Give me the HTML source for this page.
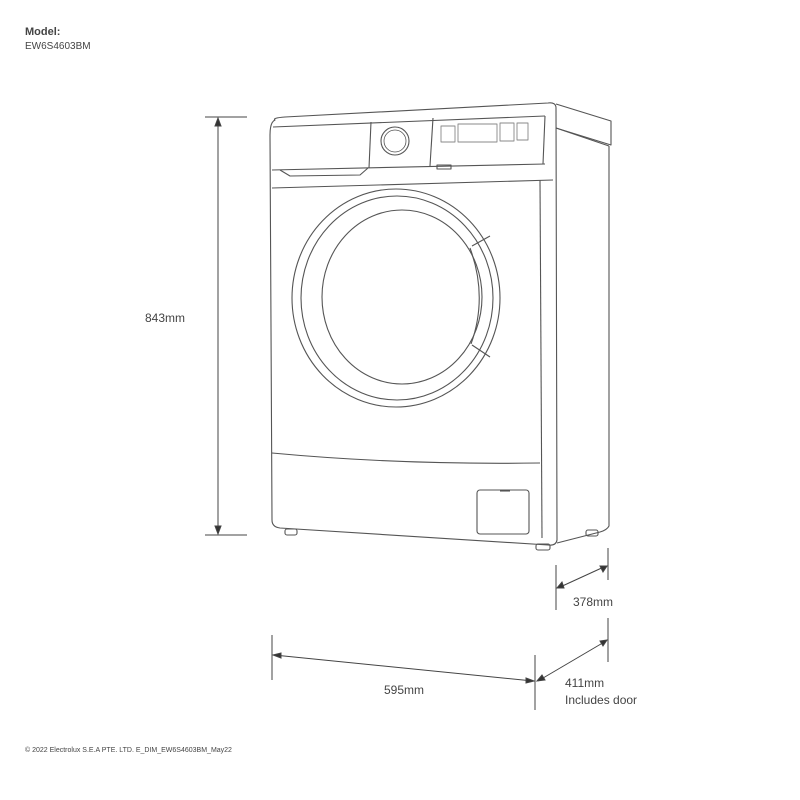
<!DOCTYPE html>
<html><head><meta charset="utf-8"><style>
html,body{margin:0;padding:0;background:#fff;width:800px;height:800px;overflow:hidden}
svg{display:block}
text{font-family:"Liberation Sans",sans-serif;fill:#444}
</style></head><body>
<svg width="800" height="800" viewBox="0 0 800 800" xmlns="http://www.w3.org/2000/svg">
<text x="25" y="35" font-size="11" font-weight="bold" fill="#333">Model:</text>
<text x="25" y="49" font-size="10" fill="#555">EW6S4603BM</text>

<g fill="none" stroke="#555" stroke-width="1.1" stroke-linejoin="round">
<!-- front face -->
<path d="M275,120 Q272,118 285,117 L548,103 Q556,102 556,108 L557,540 Q556,546 548,545 L280,528 Q272,527 272,520 L270,135 Q270,122 275,120 Z"/>
<!-- side -->
<path d="M556,104 L611,121 L611,145 L556,128"/>
<path d="M556,128 L609,146"/>
<path d="M609,146 L609,526 Q607,530 600,532 L557,543"/>
<line x1="540" y1="180" x2="542" y2="538"/>
<!-- control panel -->
<path d="M273,127 L545,116"/>
<path d="M272,170 L545,164"/>
<path d="M371,122 L369,168"/>
<path d="M433,118 L430,166"/>
<path d="M545,116 L543,164"/>
<circle cx="395" cy="141" r="14"/>
<circle cx="395" cy="141" r="11" stroke-width="0.8"/>
<g stroke="#888" stroke-width="0.9">
<rect x="441" y="126" width="14" height="16"/>
<rect x="458" y="124" width="39" height="18"/>
<rect x="500" y="123" width="14" height="18"/>
<rect x="517" y="123" width="11" height="17"/>
</g>
<path d="M280,170 L290,176 L360,175 L368,168"/>
<rect x="437" y="165" width="14" height="4"/>
<path d="M272,188 L553,180"/>
<!-- door -->
<ellipse cx="396" cy="298" rx="104" ry="109"/>
<ellipse cx="397" cy="298" rx="96" ry="102"/>
<ellipse cx="402" cy="297" rx="80" ry="87"/>
<path d="M472,246 L490,236"/>
<path d="M472,345 L490,357"/>
<path d="M470,248 Q488,297 471,344"/>
<!-- lower panel -->
<path d="M272,453 Q400,465 540,463"/>
<rect x="477" y="490" width="52" height="44" rx="3"/>
<line x1="500" y1="491" x2="510" y2="491"/>
<!-- feet -->
<rect x="285" y="529" width="12" height="6" rx="2"/>
<rect x="536" y="544" width="14" height="6" rx="2"/>
<rect x="586" y="530" width="12" height="6" rx="2"/>
</g>

<!-- dimensions -->
<g stroke="#444" stroke-width="1" fill="#333">
<line x1="205" y1="117" x2="247" y2="117"/>
<line x1="205" y1="535" x2="247" y2="535"/>
<line x1="218" y1="119" x2="218" y2="533"/>
<polygon points="218,118 215,126 221,126"/>
<polygon points="218,534 215,526 221,526"/>

<line x1="272" y1="635" x2="272" y2="680"/>
<line x1="535" y1="655" x2="535" y2="710"/>
<line x1="274" y1="655" x2="533" y2="681"/>
<polygon points="273,655 281,653 281,658"/>
<polygon points="534,681 526,678 526,683"/>

<line x1="556" y1="565" x2="556" y2="610"/>
<line x1="608" y1="548" x2="608" y2="580"/>
<line x1="608" y1="618" x2="608" y2="662"/>
<line x1="558" y1="588" x2="606" y2="566"/>
<polygon points="557,588 562,582 564,588"/>
<polygon points="607,566 600,566 603,572"/>
<line x1="538" y1="681" x2="606" y2="641"/>
<polygon points="537,681 542,675 545,680"/>
<polygon points="607,640 600,641 603,646"/>
</g>
<text x="145" y="322" font-size="12">843mm</text>
<text x="573" y="606" font-size="12">378mm</text>
<text x="384" y="694" font-size="12">595mm</text>
<text x="565" y="687" font-size="12">411mm</text>
<text x="565" y="704" font-size="12">Includes door</text>
<text x="25" y="752" font-size="7" fill="#666">© 2022 Electrolux S.E.A PTE. LTD.  E_DIM_EW6S4603BM_May22</text>
</svg>
</body></html>
